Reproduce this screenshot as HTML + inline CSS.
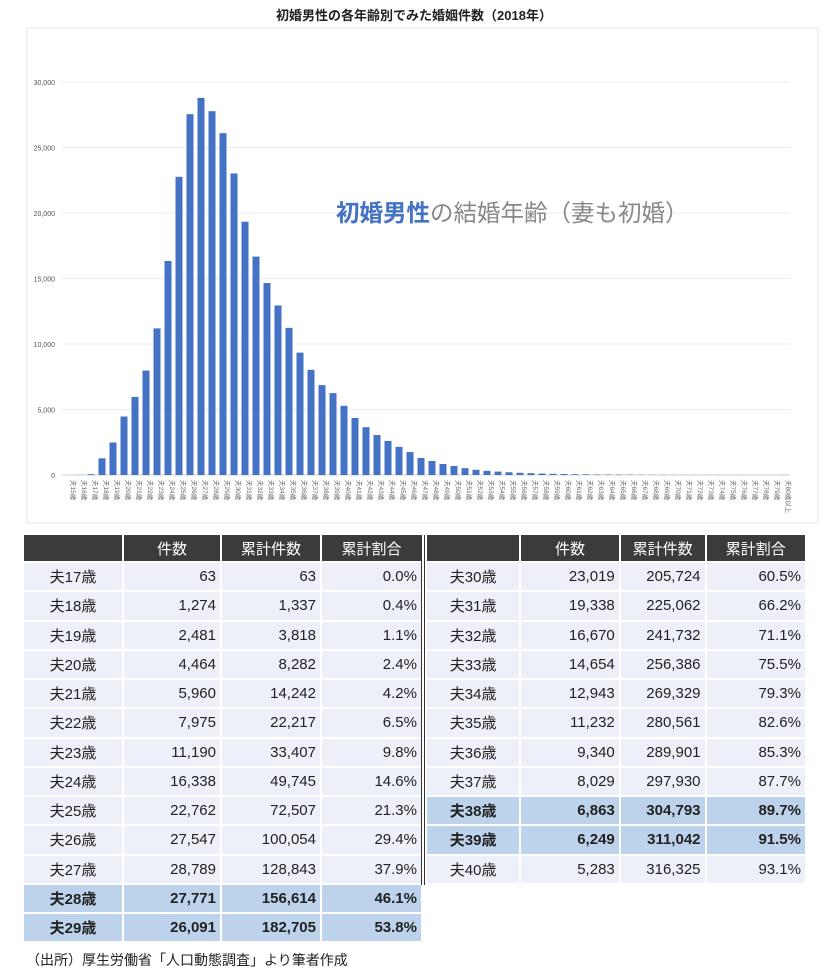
<!DOCTYPE html>
<html><head><meta charset="utf-8"><style>
body{margin:0;width:828px;height:974px;background:#fff;font-family:"Liberation Sans","Noto Sans CJK JP",sans-serif;position:relative;overflow:hidden}
.title{position:absolute;top:5px;left:0;width:828px;text-align:center;font-size:13px;font-weight:bold;color:#222}
#chart{position:absolute;left:0;top:0}
table{position:absolute;border-collapse:collapse;font-size:15px;color:#222}
td,th{border:2px solid #fff;height:27.25px;padding:0 4px;text-align:right}
th{background:#3b3b3b;color:#fff;font-weight:normal;text-align:center;height:26px}
td{background:#eef0f9}
td.l{text-align:center}
tr.hl td{background:#bdd3ec;font-weight:bold}
.src{position:absolute;left:26px;top:950px;font-size:14px;color:#222}
</style></head><body>
<div class="title">初婚男性の各年齢別でみた婚姻件数（2018年）</div>
<svg id="chart" width="828" height="530">
<rect x="27" y="28" width="791" height="495" fill="none" stroke="#e4e4e4"/>
<g id="grid"></g><g id="bars"></g><g id="xl"></g>
<text x="336" y="221" font-size="23.5" fill="#4472c4" font-weight="bold">初婚男性<tspan fill="#888" font-weight="normal">の結婚年齢（妻も初婚）</tspan></text>
</svg>
<script>
const ages=[];for(let a=15;a<=80;a++)ages.push(a);
const counts=[0,10,63,1274,2481,4464,5960,7975,11190,16338,22762,27547,28789,27771,26091,23019,19338,16670,14654,12943,11232,9340,8029,6863,6249,5283,4350,3650,3050,2600,2150,1750,1300,1070,840,690,520,400,320,260,210,170,140,110,90,75,60,50,40,35,30,25,20,18,15,12,10,9,8,7,6,5,5,4,4,10];
const yTicks=[0,5000,10000,15000,20000,25000,30000];
const NS='http://www.w3.org/2000/svg';
const y=v=>475-v*(393/30000);
const x=i=>69+i*11.0;
const g=document.getElementById('grid');
yTicks.forEach(t=>{
 const l=document.createElementNS(NS,'line');
 
 
 l.setAttribute('x1',62);l.setAttribute('x2',790);l.setAttribute('y1',y(t));l.setAttribute('y2',y(t));
 l.setAttribute('stroke',t?'#ececec':'#d0d0d0');g.appendChild(l);
 const tx=document.createElementNS(NS,'text');
 
 
 tx.setAttribute('x',55);tx.setAttribute('y',y(t)+3);tx.setAttribute('text-anchor','end');tx.setAttribute('font-size','7');tx.setAttribute('fill','#555');
 tx.textContent=t.toLocaleString('en-US');g.appendChild(tx);
});
const b=document.getElementById('bars'),xl=document.getElementById('xl');
counts.forEach((c,i)=>{
 const r=document.createElementNS(NS,'rect');
 
 
 r.setAttribute('x',x(i)-3.5);r.setAttribute('width',7);r.setAttribute('y',y(c));r.setAttribute('height',Math.max(0,475-y(c)));r.setAttribute('fill','#4472c4');
 b.appendChild(r);
 const t=document.createElementNS(NS,'text');
 
 
 t.setAttribute('font-size','6.5');t.setAttribute('fill','#666');
 t.setAttribute('transform','translate('+(x(i)+2)+',480) rotate(90)');
 t.textContent=ages[i]===80?'夫80歳以上':'夫'+ages[i]+'歳';
 xl.appendChild(t);
});
</script>
<table style="left:22px;top:533px;width:401px">
<colgroup><col style="width:100px"><col style="width:98px"><col style="width:100px"><col style="width:101px"></colgroup>
<tr><th></th><th>件数</th><th>累計件数</th><th>累計割合</th></tr>
<tr><td class="l">夫17歳</td><td>63</td><td>63</td><td>0.0%</td></tr>
<tr><td class="l">夫18歳</td><td>1,274</td><td>1,337</td><td>0.4%</td></tr>
<tr><td class="l">夫19歳</td><td>2,481</td><td>3,818</td><td>1.1%</td></tr>
<tr><td class="l">夫20歳</td><td>4,464</td><td>8,282</td><td>2.4%</td></tr>
<tr><td class="l">夫21歳</td><td>5,960</td><td>14,242</td><td>4.2%</td></tr>
<tr><td class="l">夫22歳</td><td>7,975</td><td>22,217</td><td>6.5%</td></tr>
<tr><td class="l">夫23歳</td><td>11,190</td><td>33,407</td><td>9.8%</td></tr>
<tr><td class="l">夫24歳</td><td>16,338</td><td>49,745</td><td>14.6%</td></tr>
<tr><td class="l">夫25歳</td><td>22,762</td><td>72,507</td><td>21.3%</td></tr>
<tr><td class="l">夫26歳</td><td>27,547</td><td>100,054</td><td>29.4%</td></tr>
<tr><td class="l">夫27歳</td><td>28,789</td><td>128,843</td><td>37.9%</td></tr>
<tr class="hl"><td class="l">夫28歳</td><td>27,771</td><td>156,614</td><td>46.1%</td></tr>
<tr class="hl"><td class="l">夫29歳</td><td>26,091</td><td>182,705</td><td>53.8%</td></tr>
</table>
<div style="position:absolute;left:421px;top:535px;width:2px;height:350px;border-left:1px solid #333;border-right:1px solid #333"></div>
<table style="left:425px;top:533px;width:382px">
<colgroup><col style="width:95px"><col style="width:100px"><col style="width:86px"><col style="width:101px"></colgroup>
<tr><th></th><th>件数</th><th>累計件数</th><th>累計割合</th></tr>
<tr><td class="l">夫30歳</td><td>23,019</td><td>205,724</td><td>60.5%</td></tr>
<tr><td class="l">夫31歳</td><td>19,338</td><td>225,062</td><td>66.2%</td></tr>
<tr><td class="l">夫32歳</td><td>16,670</td><td>241,732</td><td>71.1%</td></tr>
<tr><td class="l">夫33歳</td><td>14,654</td><td>256,386</td><td>75.5%</td></tr>
<tr><td class="l">夫34歳</td><td>12,943</td><td>269,329</td><td>79.3%</td></tr>
<tr><td class="l">夫35歳</td><td>11,232</td><td>280,561</td><td>82.6%</td></tr>
<tr><td class="l">夫36歳</td><td>9,340</td><td>289,901</td><td>85.3%</td></tr>
<tr><td class="l">夫37歳</td><td>8,029</td><td>297,930</td><td>87.7%</td></tr>
<tr class="hl"><td class="l">夫38歳</td><td>6,863</td><td>304,793</td><td>89.7%</td></tr>
<tr class="hl"><td class="l">夫39歳</td><td>6,249</td><td>311,042</td><td>91.5%</td></tr>
<tr><td class="l">夫40歳</td><td>5,283</td><td>316,325</td><td>93.1%</td></tr>
</table>
<div class="src">（出所）厚生労働省「人口動態調査」より筆者作成</div>
</body></html>
